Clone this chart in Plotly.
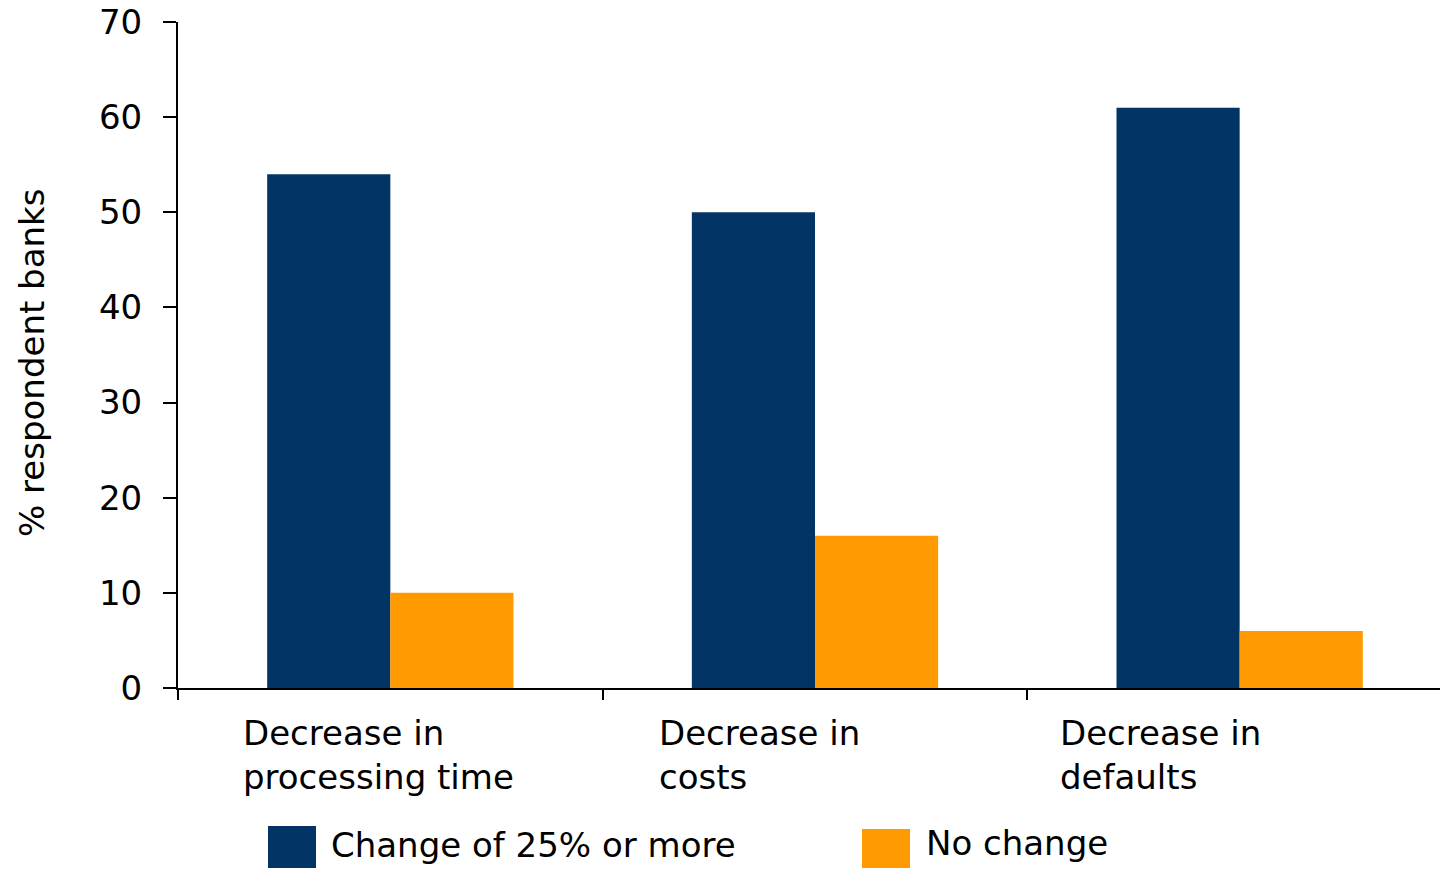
import plotly.graph_objects as go

categories = ["Decrease in processing time", "Decrease in costs", "Decrease in defaults"]
category_labels = ["Decrease in<br>processing time", "Decrease in<br>costs", "Decrease in<br>defaults"]
series_names = ["Change of 25% or more", "No change"]
change_25_or_more = [54, 50, 61]
no_change = [10, 16, 6]
y_ticks = [0, 10, 20, 30, 40, 50, 60, 70]
y_title = "% respondent banks"

NAVY = "#033466"
ORANGE = "#FF9A00"
FONT = "DejaVu Sans"
FS = 34

W, H = 1441, 869
L, R, T, B = 178, 1, 22, 181
PW = W - L - R
PH = H - T - B


def px(xp):
    return (xp - L) / PW


def py(yp):
    return (H - B - yp) / PH


fig = go.Figure()
fig.add_trace(go.Bar(x=categories, y=change_25_or_more, name=series_names[0],
                     marker=dict(color=NAVY, line=dict(width=0)), showlegend=False))
fig.add_trace(go.Bar(x=categories, y=no_change, name=series_names[1],
                     marker=dict(color=ORANGE, line=dict(width=0)), showlegend=False))

# category labels (left aligned blocks)
label_shift = [-149, -158, -182]
for cat, lab, sh in zip(categories, category_labels, label_shift):
    fig.add_annotation(x=cat, xref="x", y=py(711), yref="paper", text=lab,
                       showarrow=False, xanchor="left", yanchor="top", align="left",
                       xshift=sh, font=dict(family=FONT, size=FS, color="black"))

# y-axis title
fig.add_annotation(x=px(32), xref="paper", y=py(363), yref="paper", text=y_title,
                   textangle=-90, showarrow=False, xanchor="center", yanchor="middle",
                   font=dict(family=FONT, size=FS, color="black"))

# custom legend: (name, colour, box x0, x1, y0, y1, text x, text centre y)
legend_items = [(series_names[0], NAVY, 268, 316, 826, 868, 329, 845),
                (series_names[1], ORANGE, 862, 910, 829, 868, 924, 843)]
for name, col, x0, x1, y0, y1, tx, ty in legend_items:
    fig.add_shape(type="rect", xref="paper", yref="paper",
                  x0=px(x0), x1=px(x1), y0=py(y0), y1=py(y1),
                  fillcolor=col, line=dict(width=0))
    fig.add_annotation(x=px(tx), xref="paper", y=py(ty), yref="paper",
                       text=name, showarrow=False, xanchor="left", yanchor="middle",
                       font=dict(family=FONT, size=FS, color="black"))

fig.update_layout(
    width=W, height=H,
    margin=dict(l=L, r=R, t=T, b=B, pad=0),
    paper_bgcolor="white", plot_bgcolor="white",
    barmode="group", bargap=0.42, bargroupgap=0,
    font=dict(family=FONT, size=FS, color="black"),
    showlegend=False,
)
fig.update_xaxes(
    type="category", range=[-0.5, 2.5 - 12 / 425],
    showticklabels=False, showgrid=False, zeroline=False,
    showline=True, linecolor="black", linewidth=2,
    ticks="outside", tickson="boundaries", ticklen=10, tickwidth=2, tickcolor="black",
)
fig.update_yaxes(
    range=[0, 70], tickvals=y_ticks, showgrid=False, zeroline=False,
    showline=True, linecolor="black", linewidth=2,
    ticks="outside", ticklen=13, tickwidth=2, tickcolor="black",
    ticklabelstandoff=14,
    tickfont=dict(family=FONT, size=FS, color="black"),
)

fig.write_html("out.html")
